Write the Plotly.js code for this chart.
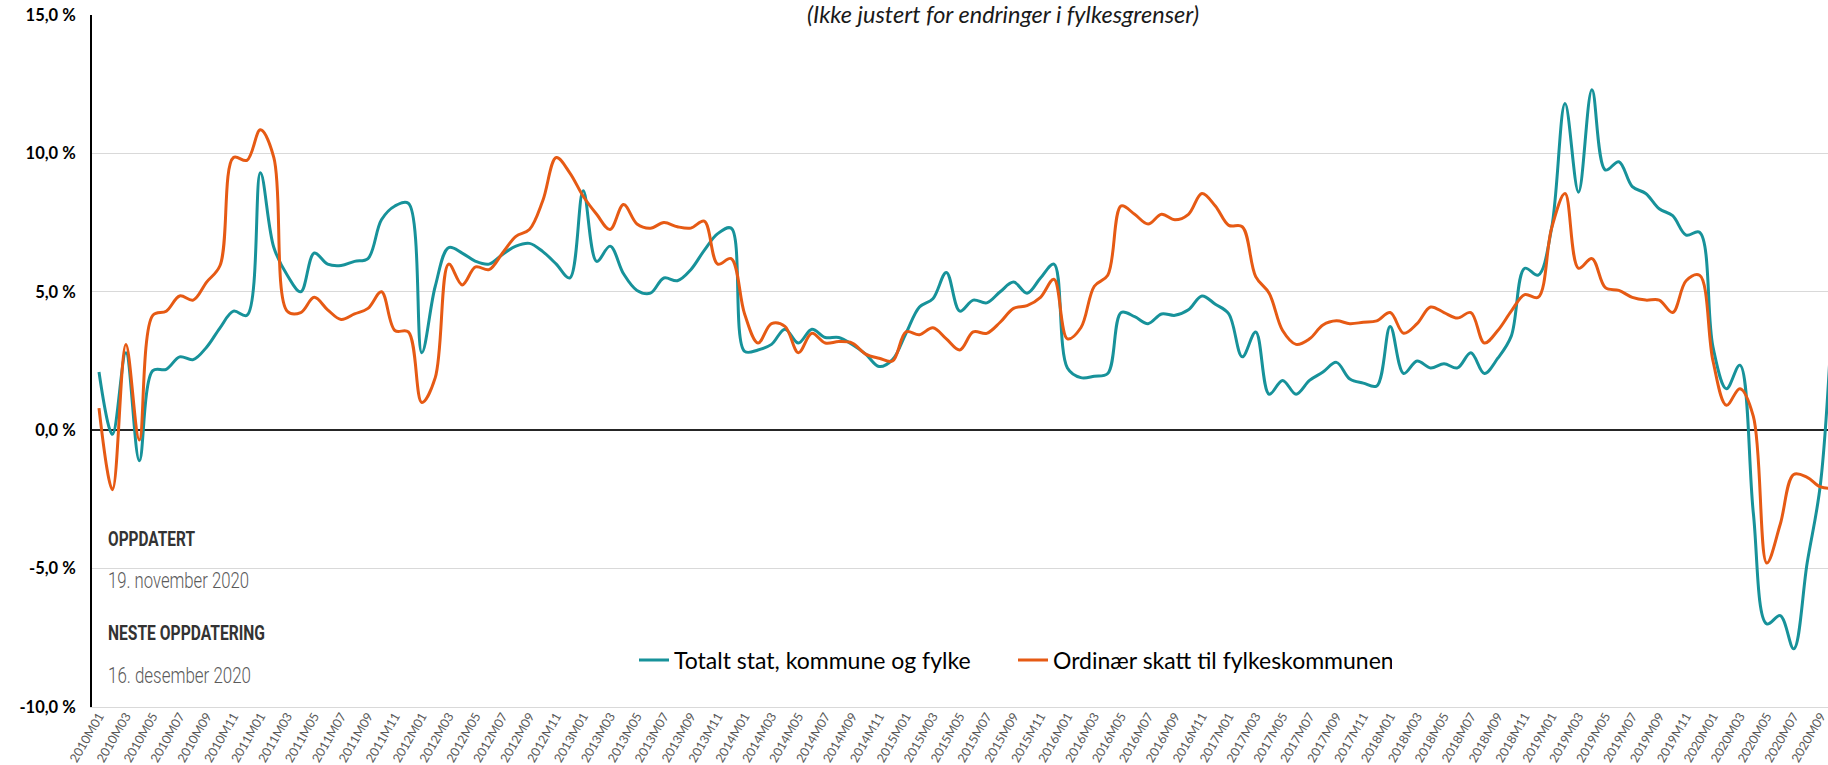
<!DOCTYPE html>
<html>
<head>
<meta charset="utf-8">
<script src="https://cdn.plot.ly/plotly-3.0.1.min.js"></script>
<style>
  html, body { margin: 0; padding: 0; background: #ffffff; }
  #chart { width: 1828px; height: 765px; }
</style>
</head>
<body>
<div id="chart"></div>
<script>
// Month categories 2010M01 .. 2020M10
const months = [];
for (let y = 2010; y <= 2020; y++) {
  for (let m = 1; m <= 12; m++) {
    if (y === 2020 && m > 10) break;
    months.push(y + 'M' + String(m).padStart(2, '0'));
  }
}
// Tick labels: every second month, 2010M01 .. 2020M09
const tickLabels = months.filter((m, i) => i % 2 === 0);

// Totalt stat, kommune og fylke (percent)
const totalt2010 = [2.1, -0.15, 2.8, -1.1, 2.15, 2.2, 2.65, 2.55, 3.0, 3.7, 4.3, 4.15];
const totalt2011 = [9.3, 6.6, 5.6, 5.0, 6.4, 6.0, 5.95, 6.1, 6.2, 7.6, 8.1, 8.2];
const totalt2012 = [2.8, 5.2, 6.6, 6.4, 6.1, 6.0, 6.35, 6.65, 6.75, 6.45, 6.0, 5.5];
const totalt2013 = [8.65, 6.1, 6.65, 5.65, 5.05, 4.95, 5.5, 5.4, 5.8, 6.5, 7.1, 7.3];
const totalt2014 = [2.85, 2.9, 3.1, 3.65, 3.15, 3.65, 3.35, 3.35, 3.1, 2.75, 2.3, 2.55];
const totalt2015 = [3.5, 4.45, 4.75, 5.7, 4.3, 4.7, 4.6, 5.0, 5.35, 4.95, 5.5, 6.0];
const totalt2016 = [2.25, 1.9, 1.95, 2.05, 4.25, 4.1, 3.85, 4.2, 4.15, 4.35, 4.85, 4.55];
const totalt2017 = [4.2, 2.65, 3.55, 1.3, 1.8, 1.3, 1.8, 2.1, 2.45, 1.85, 1.7, 1.6];
const totalt2018 = [3.75, 2.05, 2.5, 2.25, 2.4, 2.25, 2.8, 2.05, 2.6, 3.4, 5.85, 5.6];
const totalt2019 = [7.3, 11.8, 8.6, 12.3, 9.4, 9.7, 8.8, 8.55, 8.0, 7.75, 7.05, 7.15];
const totalt2020 = [3.0, 1.5, 2.35, -3.0, -7.0, -6.7, -7.9, -4.8, -1.9, 5.5];

// Ordinær skatt til fylkeskommunen (percent)
const fylke2010 = [0.8, -2.15, 3.1, -0.35, 4.15, 4.3, 4.85, 4.7, 5.35, 5.95, 9.85, 9.75];
const fylke2011 = [10.85, 9.85, 4.3, 4.25, 4.8, 4.35, 4.0, 4.2, 4.4, 5.0, 3.6, 3.55];
const fylke2012 = [1.0, 1.9, 6.0, 5.25, 5.9, 5.8, 6.4, 7.0, 7.25, 8.3, 9.85, 9.3];
const fylke2013 = [8.45, 7.8, 7.25, 8.15, 7.45, 7.3, 7.5, 7.35, 7.3, 7.55, 6.0, 6.2];
const fylke2014 = [4.2, 3.15, 3.85, 3.75, 2.8, 3.5, 3.15, 3.2, 3.15, 2.75, 2.6, 2.5];
const fylke2015 = [3.55, 3.45, 3.7, 3.3, 2.9, 3.55, 3.5, 3.9, 4.4, 4.5, 4.8, 5.45];
const fylke2016 = [3.3, 3.7, 5.2, 5.6, 8.1, 7.8, 7.45, 7.8, 7.6, 7.8, 8.55, 8.1];
const fylke2017 = [7.4, 7.35, 5.55, 4.95, 3.6, 3.1, 3.3, 3.8, 3.95, 3.85, 3.9, 3.95];
const fylke2018 = [4.25, 3.5, 3.85, 4.45, 4.25, 4.05, 4.25, 3.15, 3.6, 4.3, 4.9, 4.8];
const fylke2019 = [7.3, 8.55, 5.85, 6.2, 5.15, 5.05, 4.8, 4.7, 4.7, 4.25, 5.4, 5.6];
const fylke2020 = [2.5, 0.9, 1.5, 0.5, -4.8, -3.4, -1.6, -1.7, -2.05, -2.1];

const totalt = [].concat(totalt2010, totalt2011, totalt2012, totalt2013, totalt2014,
  totalt2015, totalt2016, totalt2017, totalt2018, totalt2019, totalt2020);
const fylke = [].concat(fylke2010, fylke2011, fylke2012, fylke2013, fylke2014,
  fylke2015, fylke2016, fylke2017, fylke2018, fylke2019, fylke2020);

const yTickVals = [-10, -5, 0, 5, 10, 15];
const yTickText = ['-10,0 %', '-5,0 %', '0,0 %', '5,0 %', '10,0 %', '15,0 %'];

const seriesNames = ['Totalt stat, kommune og fylke', 'Ordinær skatt til fylkeskommunen'];
const titleText = '(Ikke justert for endringer i fylkesgrenser)';
const noteTexts = ['OPPDATERT', '19. november 2020', 'NESTE OPPDATERING', '16. desember 2020'];

const FONT = 'Lato, "Open Sans", sans-serif';
const NOTEFONT = 'Roboto, "Liberation Sans", sans-serif';

const data = [
  {
    type: 'scatter', mode: 'lines', name: seriesNames[0],
    x: months, y: totalt,
    line: { color: '#17929a', width: 3, shape: 'spline', smoothing: 1 }
  },
  {
    type: 'scatter', mode: 'lines', name: seriesNames[1],
    x: months, y: fylke,
    line: { color: '#e65a14', width: 3, shape: 'spline', smoothing: 1 }
  }
];

const noteX = (106 - 92) / 1736;
const layout = {
  width: 1828, height: 765,
  margin: { l: 92, r: 0, t: 15, b: 58, pad: 0 },
  paper_bgcolor: '#ffffff', plot_bgcolor: '#ffffff',
  showlegend: true,
  title: {
    text: titleText,
    x: 1003 / 1828, xref: 'container', xanchor: 'center',
    y: 1 - 15 / 765, yref: 'container', yanchor: 'middle',
    font: { family: FONT, size: 23.5, style: 'italic', color: '#1a1a1a' }
  },
  xaxis: {
    type: 'category',
    range: [-0.52, 128.55], autorange: false,
    tickmode: 'array', tickvals: tickLabels, ticktext: tickLabels,
    tickangle: -60,
    tickfont: { family: FONT, size: 12.5, color: '#595959' },
    ticklabelstandoff: -4,
    showgrid: false, zeroline: false,
    showline: true, linecolor: '#d9d9d9', linewidth: 1,
    ticks: ''
  },
  yaxis: {
    range: [-10, 15], autorange: false,
    tickmode: 'array', tickvals: yTickVals, ticktext: yTickText,
    tickfont: { family: FONT, size: 16.5, color: '#000000', weight: 'bold' },
    ticks: 'outside', ticklen: 11, tickcolor: 'rgba(0,0,0,0)',
    showgrid: true, gridcolor: '#d9d9d9', gridwidth: 1,
    zeroline: true, zerolinecolor: '#262626', zerolinewidth: 2,
    showline: true, linecolor: '#000000', linewidth: 2
  },
  legend: {
    orientation: 'h',
    x: (634 - 92) / 1736, xanchor: 'left',
    y: (707 - 660) / 692, yanchor: 'middle',
    font: { family: FONT, size: 23, color: '#000000' },
    bgcolor: 'rgba(0,0,0,0)',
    entrywidth: 334, entrywidthmode: 'pixels',
    itemwidth: 30
  },
  annotations: [
    { text: noteTexts[0], xref: 'paper', yref: 'paper', x: noteX, y: (707 - 539) / 692,
      xanchor: 'left', yanchor: 'middle', showarrow: false,
      font: { family: NOTEFONT, size: 21, color: '#333333', weight: 'bold' } },
    { text: noteTexts[1], xref: 'paper', yref: 'paper', x: noteX, y: (707 - 580) / 692,
      xanchor: 'left', yanchor: 'middle', showarrow: false,
      font: { family: NOTEFONT, size: 22, color: '#5b5b5b', weight: 300 } },
    { text: noteTexts[2], xref: 'paper', yref: 'paper', x: noteX, y: (707 - 633) / 692,
      xanchor: 'left', yanchor: 'middle', showarrow: false,
      font: { family: NOTEFONT, size: 21, color: '#333333', weight: 'bold' } },
    { text: noteTexts[3], xref: 'paper', yref: 'paper', x: noteX, y: (707 - 675) / 692,
      xanchor: 'left', yanchor: 'middle', showarrow: false,
      font: { family: NOTEFONT, size: 22, color: '#5b5b5b', weight: 300 } }
  ]
};

// Condensed look of the note texts (reference uses a condensed typeface)
const noteWidths = [87, 141, 157, 143];

Plotly.newPlot('chart', data, layout, { staticPlot: true, displayModeBar: false }).then(function () {
  const texts = document.querySelectorAll('#chart .annotation-text');
  texts.forEach(function (t, k) {
    const bb = t.getBBox();
    t.setAttribute('text-anchor', 'start');
    t.setAttribute('x', bb.x);
    t.setAttribute('textLength', noteWidths[k]);
    t.setAttribute('lengthAdjust', 'spacingAndGlyphs');
  });
});
</script>
</body>
</html>
